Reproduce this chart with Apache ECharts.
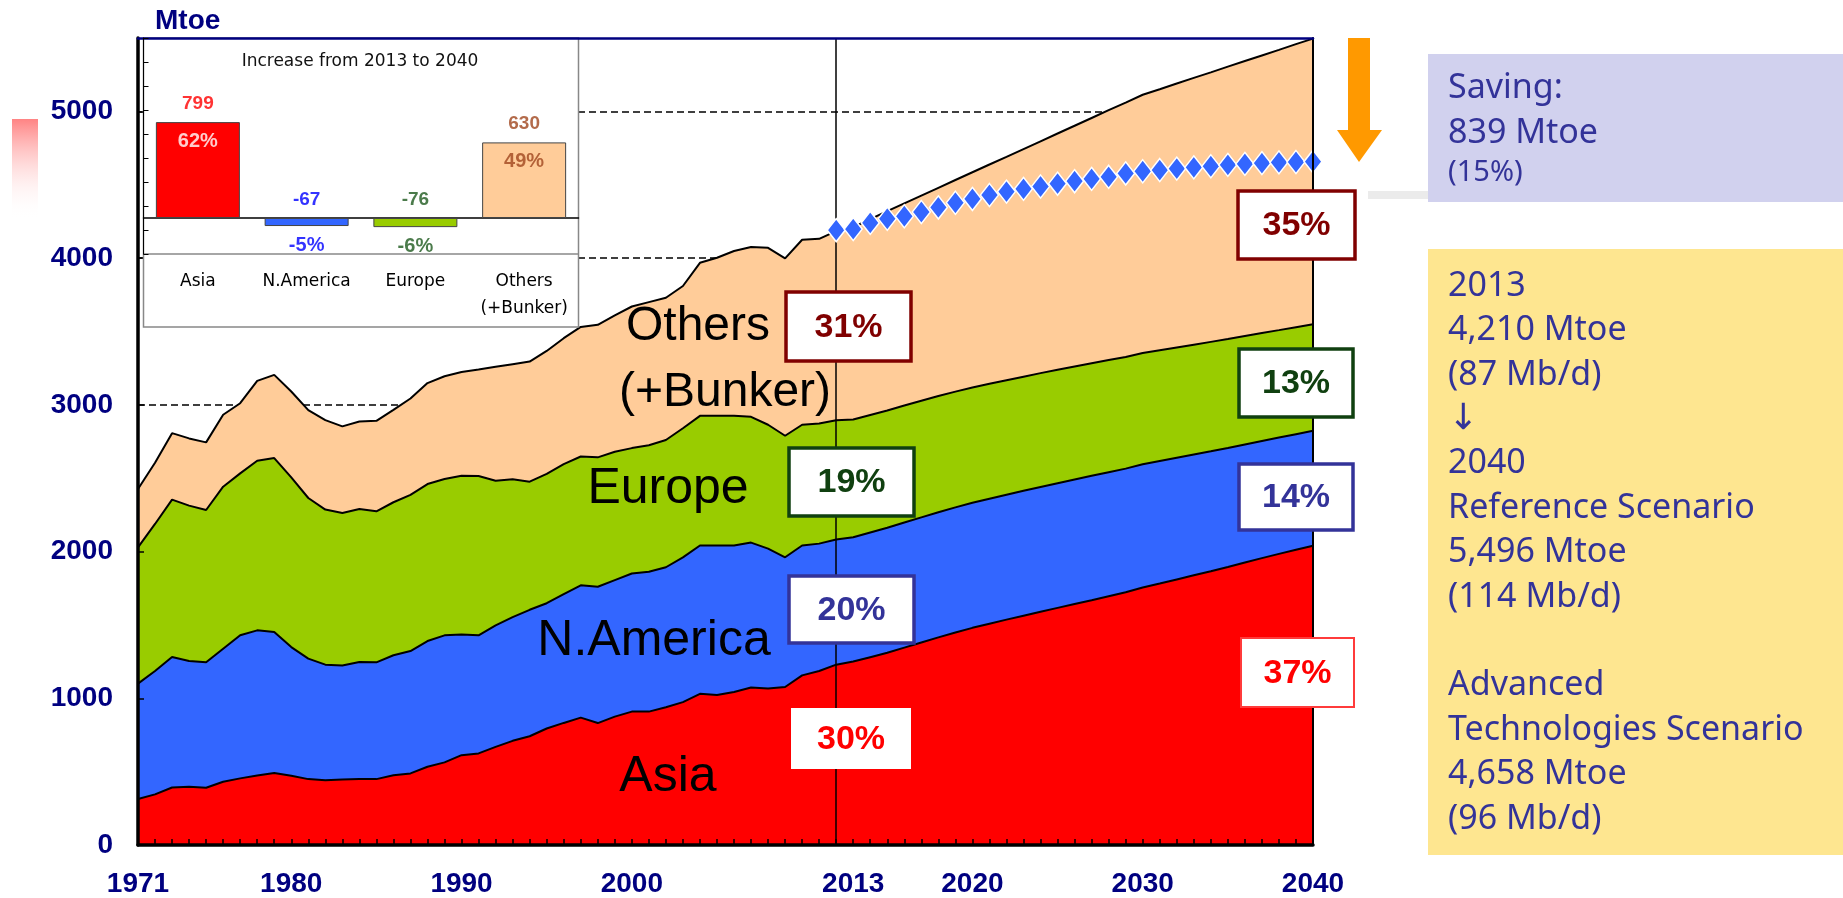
<!DOCTYPE html>
<html>
<head>
<meta charset="utf-8">
<script src="https://cdn.jsdelivr.net/npm/echarts@6/dist/echarts.min.js"></script>
<style>
  html, body { margin: 0; padding: 0; background: #fff; }
  #chart { width: 1843px; height: 898px; }
</style>
</head>
<body>
<div id="chart"></div>
<script>
// x categories: 1971 .. 2040
const years = [];
for (let y = 1971; y <= 2040; y++) years.push(String(y));
const labelYears = ['1971', '1980', '1990', '2000', '2013', '2020', '2030', '2040'];

// Mtoe by region (1971-2013 history, 2014-2040 reference scenario)
const asia = [313, 345, 392, 397, 390, 431, 454, 474, 490, 472, 449, 442, 447, 449, 449, 476, 488, 533, 563, 612,
  624, 669, 710, 741, 794, 832, 868, 831, 875, 909, 909, 939, 974, 1030, 1022, 1043, 1073, 1066, 1077, 1156,
  1186, 1229, 1250,
  1280, 1310, 1345, 1380, 1415, 1448, 1480, 1508, 1536, 1563, 1590, 1616, 1642, 1668, 1695, 1722, 1755, 1782,
  1810, 1838, 1866, 1895, 1925, 1955, 1984, 2012, 2040];
const northAmerica = [787, 841, 889, 857, 855, 907, 975, 989, 961, 877, 821, 787, 777, 798, 796, 817, 834, 857, 866, 823,
  805, 828, 843, 862, 854, 878, 902, 929, 930, 941, 953, 954, 986, 1011, 1019, 998, 988, 954, 884, 885,
  868, 853, 847,
  850, 852, 853, 853, 853, 853, 852, 852, 851, 851, 850, 850, 849, 848, 846, 843, 840, 835,
  829, 823, 817, 811, 805, 799, 793, 788, 783];
const europe = [929, 1002, 1073, 1059, 1038, 1104, 1104, 1156, 1186, 1156, 1095, 1057, 1039, 1043, 1029, 1043, 1064, 1070, 1065, 1082,
  1086, 986, 939, 873, 881, 886, 878, 882, 875, 855, 863, 867, 880, 884, 884, 884, 857, 844, 828, 823,
  819, 813, 803,
  801, 799, 797, 795, 792, 789, 786, 784, 781, 778, 776, 773, 770, 767, 764, 761, 758, 755,
  752, 749, 746, 742, 739, 736, 732, 729, 726];
const others = [397, 417, 453, 458, 461, 490, 478, 544, 567, 586, 599, 610, 590, 596, 617, 630, 657, 688, 701, 707,
  725, 776, 785, 819, 838, 858, 883, 903, 930, 965, 975, 970, 970, 1043, 1077, 1123, 1157, 1206, 1209, 1261,
  1258, 1289, 1310,
  1334, 1359, 1378, 1398, 1419, 1442, 1467, 1494, 1522, 1551, 1580, 1610, 1641, 1672, 1703, 1734, 1760, 1779,
  1799, 1818, 1837, 1857, 1874, 1891, 1910, 1929, 1947];

// Advanced Technologies Scenario total, drawn from 2012 to 2040
const advTechYears = ['2012', '2013', '2014', '2015', '2016', '2017', '2018', '2019', '2020', '2021', '2022', '2023', '2024',
  '2025', '2026', '2027', '2028', '2029', '2030', '2031', '2032', '2033', '2034', '2035', '2036', '2037', '2038', '2039', '2040'];
const advTech = [4190, 4198, 4240, 4268, 4285, 4314, 4345, 4377, 4403, 4430, 4453, 4472, 4488, 4507, 4524, 4540, 4554,
  4577, 4592, 4600, 4610, 4618, 4626, 4635, 4642, 4647, 4652, 4655, 4658];

// shares (%) in 2013 and 2040: Asia, N.America, Europe, Others
const share2013 = [30, 20, 19, 31];
const share2040 = [37, 14, 13, 35];

// inset: increase from 2013 to 2040
const insetCats = ['Asia', 'N.America', 'Europe', 'Others\n(+Bunker)'];
const insetIncrease = [799, -67, -76, 630];
const insetShare = [62, -5, -6, 49];

const scenarioLines = ['2013', '4,210 Mtoe', '(87 Mb/d)', '{arr|\u2193}', '2040', 'Reference Scenario', '5,496 Mtoe', '(114 Mb/d)', '',
  'Advanced', 'Technologies Scenario', '4,658 Mtoe', '(96 Mb/d)'];

const NAVY = '#000080';
const AXIS_FONT = 'Liberation Sans';
const areaColors = ['#FF0000', '#3366FF', '#99CC00', '#FFCC99'];
const shareColors = ['#FF0000', '#333399', '#104010', '#800000'];
const insetBarColors = ['#FF0000', '#3366FF', '#99CC00', '#FFCC99'];
const insetValueColors = ['#FF0000', '#0000FF', '#1E5A1E', '#A0461E'];
const insetShareColors = ['#FFFFFF', '#0000FF', '#1E5A1E', '#A0461E'];

// box layouts for the share labels
const box2013 = [
  { x: 791, y: 708, w: 120, h: 61, border: 0 },
  { x: 789, y: 576, w: 125, h: 67, border: 3.5 },
  { x: 789, y: 448, w: 125, h: 68, border: 3.5 },
  { x: 786, y: 292, w: 125, h: 69, border: 3.5 }
];
const box2040 = [
  { x: 1241, y: 638, w: 113, h: 69, border: 2 },
  { x: 1239, y: 464, w: 114, h: 66, border: 3.5 },
  { x: 1239, y: 349, w: 114, h: 68, border: 3.5 },
  { x: 1238, y: 191, w: 117, h: 68, border: 3.5 }
];

const chart = echarts.init(document.getElementById('chart'));

const graphics = [];

// faded red block at far left
graphics.push({
  type: 'rect', z: 1,
  shape: { x: 12, y: 119, width: 26, height: 100 },
  style: {
    fill: new echarts.graphic.LinearGradient(0, 0, 0, 1, [
      { offset: 0, color: 'rgba(255,90,90,0.75)' },
      { offset: 1, color: 'rgba(255,255,255,0)' }
    ])
  }
});

graphics.push({
  type: 'text', z: 20,
  style: { text: 'Mtoe', x: 155, y: 21, fill: NAVY, font: 'bold 28px "Liberation Sans"', align: 'left', verticalAlign: 'middle' }
});

// inset frame
graphics.push({
  type: 'rect', z: 9,
  shape: { x: 143.5, y: 38, width: 435, height: 289 },
  style: { fill: '#fff', stroke: '#888', lineWidth: 1.5 }
});
graphics.push({
  type: 'line', z: 9,
  shape: { x1: 143.5, y1: 254, x2: 578.5, y2: 254 },
  style: { stroke: '#888', lineWidth: 1.5 }
});
graphics.push({
  type: 'text', z: 12,
  style: { text: 'Increase from 2013 to 2040', x: 360, y: 62, fill: '#111', font: '17px "DejaVu Sans"', align: 'center', verticalAlign: 'middle' }
});

// region names on the areas
const regionLabels = [
  { text: 'Asia', x: 668, y: 777, size: 50 },
  { text: 'N.America', x: 654, y: 641, size: 50 },
  { text: 'Europe', x: 668, y: 489, size: 50 },
  { text: 'Others', x: 698, y: 327, size: 48 },
  { text: '(+Bunker)', x: 725, y: 393, size: 48 }
];
regionLabels.forEach(function (r) {
  graphics.push({
    type: 'text', z: 20,
    style: { text: r.text, x: r.x, y: r.y, fill: '#000', font: r.size + 'px "Liberation Sans"', align: 'center', verticalAlign: 'middle' }
  });
});

// share boxes
function shareBox(b, value, color, borderColor) {
  graphics.push({
    type: 'rect', z: 30,
    shape: { x: b.x, y: b.y, width: b.w, height: b.h },
    style: { fill: '#fff', stroke: b.border ? borderColor : null, lineWidth: b.border }
  });
  graphics.push({
    type: 'text', z: 31,
    style: { text: value + '%', x: b.x + b.w / 2, y: b.y + b.h / 2 + 1, fill: color, font: 'bold 34px "Liberation Sans"', align: 'center', verticalAlign: 'middle' }
  });
}
share2013.forEach(function (v, i) { shareBox(box2013[i], v, shareColors[i], shareColors[i]); });
share2040.forEach(function (v, i) { shareBox(box2040[i], v, shareColors[i], i === 0 ? '#FF3B3B' : shareColors[i]); });

// orange saving arrow and connector
graphics.push({
  type: 'polygon', z: 20,
  shape: { points: [[1348, 38], [1370, 38], [1370, 130], [1382, 130], [1359, 162], [1337, 130], [1348, 130]] },
  style: { fill: '#FF9900' }
});
graphics.push({
  type: 'rect', z: 20,
  shape: { x: 1368, y: 191, width: 60, height: 8 },
  style: { fill: '#EBEBEB' }
});

// right-hand panels
graphics.push({
  type: 'rect', z: 20,
  shape: { x: 1428, y: 54, width: 415, height: 148 },
  style: { fill: '#D1D1EE' }
});
[['Saving:', 88, 34], ['839 Mtoe', 133, 34], ['(15%)', 173, 29]].forEach(function (t) {
  graphics.push({
    type: 'text', z: 21,
    style: { text: t[0], x: 1448, y: t[1], fill: '#333399', font: t[2] + 'px "Noto Sans"', align: 'left', verticalAlign: 'middle' }
  });
});
graphics.push({
  type: 'rect', z: 20,
  shape: { x: 1428, y: 249, width: 415, height: 606 },
  style: { fill: '#FEE690' }
});
graphics.push({
  type: 'text', z: 21,
  style: {
    text: scenarioLines.join('\n'), x: 1448, y: 264, fill: '#333399',
    font: '34px "Noto Sans"', lineHeight: 44.4, align: 'left', verticalAlign: 'top',
    rich: {
      arr: { fontFamily: 'DejaVu Sans', fontSize: 36, lineHeight: 44.4, fill: '#333399' }
    }
  }
});

function areaSeries(name, data, color, z) {
  return {
    name: name,
    type: 'line',
    stack: 'energy',
    xAxisIndex: 0,
    yAxisIndex: 0,
    data: data,
    symbol: 'none',
    z: z,
    lineStyle: { color: '#000', width: 2 },
    areaStyle: { color: color, opacity: 1 },
    silent: true
  };
}

const option = {
  animation: false,
  backgroundColor: '#fff',
  graphic: graphics,
  grid: [
    { left: 138, right: 530, top: 38, bottom: 53 },
    { left: 143.5, top: 38, width: 435, height: 216, show: false }
  ],
  xAxis: [
    {
      type: 'category', gridIndex: 0, data: years, boundaryGap: false, z: 8,
      axisLine: { lineStyle: { color: '#000', width: 3.5 } },
      axisTick: { inside: true, length: 6, interval: 0, lineStyle: { color: '#000', width: 1.5 } },
      axisLabel: {
        interval: function (i, v) { return labelYears.indexOf(v) >= 0; },
        margin: 25, color: NAVY, fontFamily: AXIS_FONT, fontWeight: 'bold', fontSize: 28
      },
      splitLine: { show: false }
    },
    {
      type: 'category', gridIndex: 0, data: years, boundaryGap: false, position: 'top', z: 10,
      axisLine: { onZero: false, lineStyle: { color: NAVY, width: 2.5 } },
      axisTick: { show: false }, axisLabel: { show: false }, splitLine: { show: false }
    },
    {
      type: 'category', gridIndex: 1, data: insetCats, z: 11,
      axisLine: { onZero: true, lineStyle: { color: '#000', width: 1.5 } },
      axisTick: { inside: true, length: 6, lineStyle: { color: '#000', width: 1 } },
      axisLabel: { show: false }
    },
    {
      type: 'category', gridIndex: 1, data: insetCats, position: 'bottom', z: 11,
      axisLine: { show: false, onZero: false },
      axisTick: { show: false },
      axisLabel: { interval: 0, margin: 14, color: '#000', fontFamily: 'DejaVu Sans', fontSize: 17, lineHeight: 27 }
    }
  ],
  yAxis: [
    {
      type: 'value', gridIndex: 0, min: 0, max: 5500, interval: 1000, z: 8,
      axisLine: { show: true, lineStyle: { color: '#000', width: 3.5 } },
      axisTick: { show: true, inside: true, length: 6, lineStyle: { color: '#000', width: 1.5 } },
      axisLabel: {
        showMaxLabel: false, margin: 25, color: NAVY, fontFamily: AXIS_FONT, fontWeight: 'bold', fontSize: 28,
        formatter: function (v) { return String(v); }
      },
      splitLine: { show: false }
    },
    {
      type: 'value', gridIndex: 0, min: 0, max: 5500, interval: 1000, position: 'right', z: 8,
      axisLine: { show: true, onZero: false, lineStyle: { color: '#000', width: 2 } },
      axisTick: { show: false }, axisLabel: { show: false }, splitLine: { show: false }
    },
    {
      type: 'value', gridIndex: 0, min: 0, max: 5500, interval: 1000, z: 0,
      axisLine: { show: false }, axisTick: { show: false }, axisLabel: { show: false },
      splitLine: { show: true, showMinLine: false, showMaxLine: false, lineStyle: { color: '#000', width: 1.5, type: [7, 4] } }
    },
    {
      type: 'value', gridIndex: 1, min: -300, max: 1500, interval: 200, z: 11,
      axisLine: { show: true, lineStyle: { color: '#000', width: 1 } },
      axisTick: { show: true, inside: true, length: 5, lineStyle: { color: '#000', width: 1 } },
      axisLabel: { show: false },
      splitLine: { show: false }
    }
  ],
  series: [
    areaSeries('Asia', asia, areaColors[0], 5),
    areaSeries('N.America', northAmerica, areaColors[1], 4),
    areaSeries('Europe', europe, areaColors[2], 3),
    areaSeries('Others (+Bunker)', others, areaColors[3], 2),
    {
      name: 'Advanced Technologies Scenario',
      type: 'line',
      xAxisIndex: 0,
      yAxisIndex: 0,
      z: 7,
      data: advTechYears.map(function (y, i) { return [y, advTech[i]]; }),
      symbol: 'diamond',
      symbolSize: [18, 23],
      showAllSymbol: true,
      lineStyle: { width: 0, opacity: 0 },
      itemStyle: { color: '#3366FF', borderColor: '#fff', borderWidth: 1.5 },
      silent: true,
      markLine: {
        z: 6,
        silent: true,
        symbol: 'none',
        label: { show: false },
        lineStyle: { color: '#000', width: 1.5, type: 'solid' },
        data: [{ xAxis: '2012' }]
      }
    },
    {
      name: 'Increase',
      type: 'bar',
      xAxisIndex: 2,
      yAxisIndex: 3,
      z: 12,
      barWidth: 84,
      silent: true,
      data: insetIncrease.map(function (v, i) {
        return { value: v, itemStyle: { color: insetBarColors[i], borderColor: '#444', borderWidth: 1 } };
      })
    },
    {
      name: 'Increase value',
      type: 'scatter',
      xAxisIndex: 2,
      yAxisIndex: 3,
      z: 13,
      symbolSize: 0,
      silent: true,
      data: insetIncrease.map(function (v, i) {
        return {
          value: [i, Math.max(v, 0)],
          label: {
            show: true, position: 'top', distance: 9, formatter: String(v),
            color: insetValueColors[i], fontFamily: AXIS_FONT, fontWeight: 'bold', fontSize: 19
          }
        };
      })
    },
    {
      name: 'Increase share',
      type: 'scatter',
      xAxisIndex: 2,
      yAxisIndex: 3,
      z: 13,
      symbolSize: 0,
      silent: true,
      data: insetShare.map(function (s, i) {
        return {
          value: [i, insetIncrease[i]],
          label: {
            show: true, position: 'bottom', distance: 9, formatter: s + '%',
            color: insetShareColors[i], fontFamily: AXIS_FONT, fontWeight: 'bold', fontSize: 20
          }
        };
      })
    }
  ]
};

chart.setOption(option);
</script>
</body>
</html>
